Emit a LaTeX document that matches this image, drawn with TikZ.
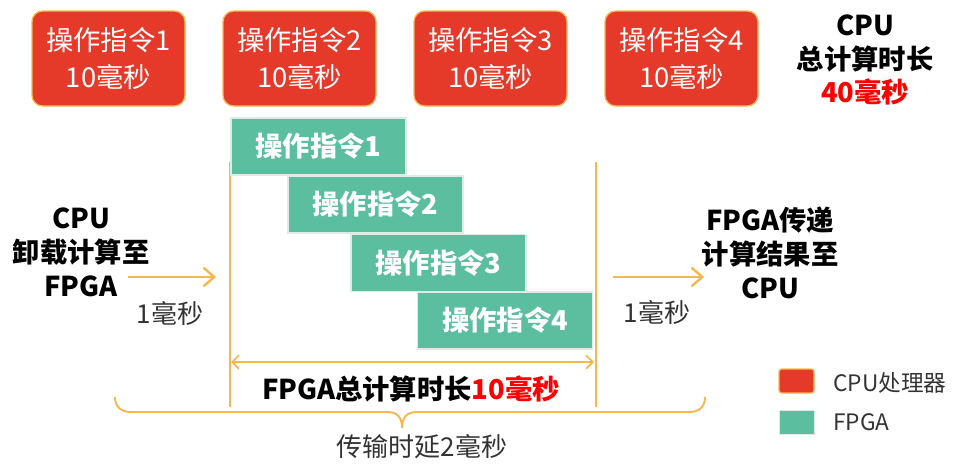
\documentclass[tikz,border=0pt]{standalone}
\usepackage{fontspec}
\setmainfont{Noto Sans CJK SC}
\usetikzlibrary{arrows.meta}
\definecolor{cpured}{RGB}{229,57,42}
\definecolor{cpuedge}{RGB}{246,186,80}
\definecolor{fpgagreen}{RGB}{91,191,159}
\definecolor{fpgaedge}{RGB}{222,236,230}
\definecolor{lineorange}{RGB}{247,183,76}
\definecolor{txtgray}{RGB}{51,51,51}
\definecolor{hotred}{RGB}{255,0,0}
\tikzset{
  cpubox/.style={draw=cpuedge, line width=1pt, fill=cpured, rounded corners=8pt,
    minimum width=114.75pt, minimum height=71.25pt, inner sep=0pt,
    text=white, align=center, font=\fontsize{20.5pt}{28pt}\selectfont},
  fpgabox/.style={draw=fpgaedge, line width=0.8pt, fill=fpgagreen,
    minimum width=131.25pt, minimum height=42.75pt, inner sep=0pt,
    text=white, font=\bfseries\fontsize{20.5pt}{24pt}\selectfont},
  biglabel/.style={align=center, inner sep=0pt, text=black,
    font=\bfseries\fontsize{20.5pt}{25.5pt}\selectfont},
  smalllabel/.style={inner sep=0pt, text=txtgray, font=\fontsize{19.5pt}{24pt}\selectfont},
  orangeline/.style={draw=lineorange, line width=1.6pt},
  flowarrow/.style={orangeline, line width=1.8pt, -{Straight Barb[length=8pt,width=14pt,line width=1.8pt]}},
  spanarrow/.style={orangeline, line width=1.3pt,
    {Straight Barb[length=5pt,width=10pt,line width=1.3pt]}-{Straight Barb[length=5pt,width=10pt,line width=1.3pt]}},
  legendsq/.style={minimum width=26.25pt, minimum height=18pt, inner sep=0pt},
  legendtxt/.style={inner sep=0pt, anchor=west, text=txtgray, font=\fontsize{17pt}{20pt}\selectfont}
}
\begin{document}
\begin{tikzpicture}[x=0.75pt,y=-0.75pt]
\useasboundingbox (0,0) rectangle (956,465);

% CPU boxes
\node[cpubox] (c1) at (108.5,58.5) {操作指令1\\10毫秒};
\node[cpubox] (c2) at (299.5,58.5) {操作指令2\\10毫秒};
\node[cpubox] (c3) at (490.5,58.5) {操作指令3\\10毫秒};
\node[cpubox] (c4) at (681.5,58.5) {操作指令4\\10毫秒};
\node[biglabel, font=\bfseries\fontsize{20.5pt}{25pt}\selectfont] (ctotal) at (865,60) {CPU\\总计算时长\\\textcolor{hotred}{40毫秒}};

% vertical bounds
\coordinate (lt) at (230,162);
\coordinate (lb) at (230,407);
\coordinate (rt) at (596,162);
\coordinate (rb) at (596,407);
\draw[orangeline] (lt) -- (lb);
\draw[orangeline] (rt) -- (rb);

% FPGA boxes
\node[fpgabox] (f1) at (318.5,146.5) {操作指令1};
\node[fpgabox] (f2) at (375.5,204.5) {操作指令2};
\node[fpgabox] (f3) at (438.5,263) {操作指令3};
\node[fpgabox] (f4) at (505,320.5) {操作指令4};

% side labels
\node[biglabel] (left) at (81,252) {CPU\\卸载计算至\\FPGA};
\node[biglabel] (right) at (770,253) {FPGA传递\\计算结果至\\CPU};

\coordinate (la1) at (128,277);
\coordinate (la2) at (216,277);
\coordinate (ra1) at (613,277);
\coordinate (ra2) at (704,277);
\draw[flowarrow] (la1) -- (la2);
\draw[flowarrow] (ra1) -- (ra2);
\node[smalllabel] (lms) at (170,313) {1毫秒};
\node[smalllabel] (rms) at (657,312) {1毫秒};

% span arrow
\coordinate (sa1) at (231,362);
\coordinate (sa2) at (594,362);
\draw[spanarrow] (sa1) -- (sa2);
\node[biglabel] (ftotal) at (411,389) {FPGA总计算时长\textcolor{hotred}{10毫秒}};

% brace
\draw[orangeline, line width=1.4pt] (115,397) .. controls (115,407) and (121,412) .. (131,412)
  -- (387,412) .. controls (397,412) and (402,417) .. (402,428)
  .. controls (402,417) and (407,412) .. (417,412)
  -- (689,412) .. controls (699,412) and (705,407) .. (705,397);
\node[smalllabel] (delay) at (422,447) {传输时延2毫秒};

% legend
\node[legendsq, fill=cpured, draw=cpuedge, line width=1pt, rounded corners=2pt] (lg1) at (796.5,381) {};
\node[legendsq, fill=fpgagreen, draw=fpgaedge, line width=0.6pt] (lg2) at (796.5,422) {};
\node[legendtxt] (lt1) at (833,383) {CPU处理器};
\node[legendtxt] (lt2) at (833,422) {FPGA};
\end{tikzpicture}
\end{document}
